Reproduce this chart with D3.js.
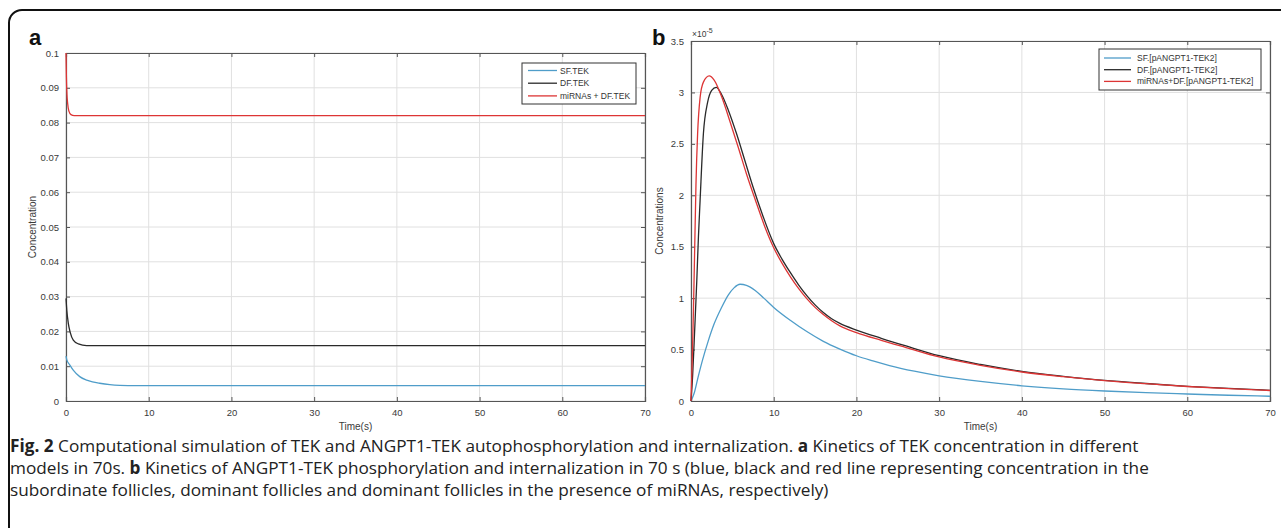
<!DOCTYPE html>
<html><head><meta charset="utf-8">
<script src="https://cdn.jsdelivr.net/npm/d3@7"></script>
<style>
html,body{margin:0;padding:0;background:#fff;}
svg{display:block;}
</style></head>
<body>
<svg id="c" width="1281" height="528"></svg>
<script>
// ---------- Data: panel a (TEK concentration) ----------
const timeSFa = [0,0.1,0.45,0.9,1.66,2.5,3.2,4.07,5.3,6.5,8.5,70];
const sfTEK   = [0.0129,0.0118,0.0104,0.0088,0.0070,0.0060,0.0055,0.0051,0.0047,0.0045,0.0044,0.0044];
const timeDFa = [0,0.1,0.28,0.5,0.88,1.5,2.5,70];
const dfTEK   = [0.0295,0.026,0.0223,0.0198,0.0175,0.0164,0.0159,0.0159];
const timeMIa = [0,0.05,0.12,0.2,0.35,0.6,1.0,70];
const miTEK   = [0.1,0.093,0.088,0.0855,0.0833,0.0823,0.082,0.082];
const legendA = ["SF.TEK","DF.TEK","miRNAs + DF.TEK"];
const xTicksA = [0,10,20,30,40,50,60,70];
const yTicksA = [0,0.01,0.02,0.03,0.04,0.05,0.06,0.07,0.08,0.09,0.1];

// ---------- Data: panel b (pANGPT1-TEK2, x 1e-5) ----------
const timeSFb = [0,0.4,0.85,1.4,2.07,2.8,3.7,4.5,5.2,5.93,6.7,7.76,8.8,10,12,14,16,18,20,22,24,27,30,35,40,45,50,55,60,65,70];
const sfP     = [0,0.08,0.23,0.4,0.58,0.75,0.91,1.03,1.1,1.135,1.125,1.075,1.0,0.91,0.785,0.675,0.58,0.505,0.44,0.39,0.345,0.29,0.245,0.19,0.148,0.118,0.097,0.081,0.068,0.056,0.046];
const timeDFb = [0,0.2,0.45,0.7,0.9,1.1,1.5,2.0,2.5,3.05,3.7,4.5,5.5,6.5,7.5,8.6,10,11,12,13,14,15,16,17,18,20,23,26,30,35,40,45,50,55,60,65,70];
const dfP     = [0,0.25,0.7,1.17,1.6,1.95,2.6,2.9,3.02,3.05,2.98,2.83,2.6,2.34,2.08,1.82,1.53,1.38,1.25,1.13,1.025,0.935,0.86,0.8,0.755,0.69,0.61,0.535,0.44,0.355,0.288,0.24,0.2,0.17,0.143,0.122,0.104];
const timeMIb = [0,0.15,0.3,0.45,0.6,0.8,1.1,1.5,2.2,2.8,3.7,4.7,5.7,6.7,7.8,8.9,10,11,12,13,14,15,16,17,18,20,23,26,30,35,40,45,50,55,60,65,70];
const miP     = [0,0.4,0.9,1.5,2.1,2.6,2.95,3.1,3.16,3.12,2.96,2.72,2.47,2.21,1.95,1.70,1.49,1.34,1.21,1.095,0.995,0.91,0.84,0.78,0.73,0.665,0.59,0.52,0.428,0.347,0.282,0.236,0.198,0.168,0.141,0.12,0.102];
const legendB = ["SF.[pANGPT1-TEK2]","DF.[pANGPT1-TEK2]","miRNAs+DF.[pANGPT1-TEK2]"];
const xTicksB = [0,10,20,30,40,50,60,70];
const yTicksB = [0,0.5,1,1.5,2,2.5,3,3.5];

const colors = ["#4f9dc9","#2a2a2a","#dd3535"];

const caption = [
  [{b:true,t:"Fig. 2"},{t:" Computational simulation of TEK and ANGPT1-TEK autophosphorylation and internalization. "},{b:true,t:"a"},{t:" Kinetics of TEK concentration in different"}],
  [{t:"models in 70s. "},{b:true,t:"b"},{t:" Kinetics of ANGPT1-TEK phosphorylation and internalization in 70 s (blue, black and red line representing concentration in the"}],
  [{t:"subordinate follicles, dominant follicles and dominant follicles in the presence of miRNAs, respectively)"}]
];

const svg = d3.select("#c");
const axisCol = "#555", gridCol = "#e0e0e0", textCol = "#3a3a3a";
const font = "'Liberation Sans', Arial, sans-serif";

// outer rounded frame
svg.append("rect").attr("x",9).attr("y",10).attr("width",1320).attr("height",600)
  .attr("rx",13).attr("fill","none").attr("stroke","#111").attr("stroke-width",2);

function panel(opt){
  const {L,T,R,B} = opt;
  const x = d3.scaleLinear().domain([0,70]).range([L,R]);
  const y = d3.scaleLinear().domain(opt.yDomain).range([B,T]);
  const g = svg.append("g");
  // grid
  g.append("g").selectAll("line").data(opt.xTicks).join("line")
    .attr("x1",d=>x(d)).attr("x2",d=>x(d)).attr("y1",T).attr("y2",B)
    .attr("stroke",gridCol).attr("stroke-width",1);
  g.append("g").selectAll("line").data(opt.yTicks).join("line")
    .attr("y1",d=>y(d)).attr("y2",d=>y(d)).attr("x1",L).attr("x2",R)
    .attr("stroke",gridCol).attr("stroke-width",1);
  // axes
  const fmt = opt.fmt;
  const ax = g.append("g").attr("transform",`translate(0,${B})`)
    .call(d3.axisBottom(x).tickValues(opt.xTicks).tickSize(-4).tickPadding(8).tickFormat(d3.format("d")));
  const axT = g.append("g").attr("transform",`translate(0,${T})`)
    .call(d3.axisTop(x).tickValues(opt.xTicks).tickSize(-4).tickFormat(""));
  const ay = g.append("g").attr("transform",`translate(${L},0)`)
    .call(d3.axisLeft(y).tickValues(opt.yTicks).tickSize(-4).tickPadding(7).tickFormat(fmt));
  const ayR = g.append("g").attr("transform",`translate(${R},0)`)
    .call(d3.axisRight(y).tickValues(opt.yTicks).tickSize(-4).tickFormat(""));
  [ax,axT,ay,ayR].forEach(a=>{
    a.select(".domain").attr("stroke",axisCol).attr("stroke-width",1.2);
    a.selectAll(".tick line").attr("stroke",axisCol);
    a.selectAll("text").attr("fill",textCol).style("font-family",font).style("font-size","9.5px");
  });
  // lines (drawn above the axes)
  const clip = "clip"+opt.id;
  svg.append("clipPath").attr("id",clip).append("rect").attr("x",L-1).attr("y",T-1).attr("width",R-L+2).attr("height",B-T+2);
  const line = d3.line().x(d=>x(d[0])).y(d=>y(d[1])).curve(d3.curveMonotoneX);
  opt.series.forEach((s,i)=>{
    g.append("path").datum(s.t.map((t,k)=>[t,s.v[k]]))
      .attr("d",line).attr("fill","none").attr("stroke",colors[i]).attr("stroke-width",1.3)
      .attr("clip-path",`url(#${clip})`);
  });
  // axis titles
  g.append("text").attr("x",(L+R)/2).attr("y",B+29).attr("text-anchor","middle")
    .attr("fill",textCol).style("font-family",font).style("font-size","10px").text("Time(s)");
  g.append("text").attr("transform",`translate(${opt.yTitleX},${(T+B)/2}) rotate(-90)`)
    .attr("text-anchor","middle").attr("fill",textCol).style("font-family",font).style("font-size","10px").text(opt.yTitle);
  // panel letter
  g.append("text").attr("x",opt.letterX).attr("y",opt.letterY).attr("fill","#111")
    .style("font-family",font).style("font-weight","bold").style("font-size","22px").text(opt.letter);
  // legend
  const lg = opt.legend;
  g.append("rect").attr("x",lg.x).attr("y",lg.y).attr("width",lg.w).attr("height",lg.h)
    .attr("fill","#fff").attr("stroke","#333").attr("stroke-width",1);
  opt.legendText.forEach((t,i)=>{
    const cy = lg.y + lg.row0 + i*lg.dy;
    g.append("line").attr("x1",lg.x+lg.l0).attr("x2",lg.x+lg.l1).attr("y1",cy).attr("y2",cy)
      .attr("stroke",colors[i]).attr("stroke-width",1.3);
    g.append("text").attr("x",lg.x+lg.tx).attr("y",cy+3).attr("fill","#333")
      .style("font-family",font).style("font-size","8.5px").text(t);
  });
  return {x,y,g};
}

panel({id:"a",L:66,T:53,R:645,B:401,yDomain:[0,0.1],xTicks:xTicksA,yTicks:yTicksA,
  fmt:d=>d===0?"0":d3.format(".2~f")(d),
  series:[{t:timeSFa,v:sfTEK},{t:timeDFa,v:dfTEK},{t:timeMIa,v:miTEK}],
  yTitle:"Concentration",yTitleX:36,letter:"a",letterX:29,letterY:45,
  legend:{x:522,y:63,w:114,h:41,row0:7.5,dy:12.7,l0:6,l1:35,tx:38},legendText:legendA});

const pb = panel({id:"b",L:691,T:41,R:1270,B:401,yDomain:[0,3.5],xTicks:xTicksB,yTicks:yTicksB,
  fmt:d=>d3.format("~g")(d),
  series:[{t:timeSFb,v:sfP},{t:timeDFb,v:dfP},{t:timeMIb,v:miP}],
  yTitle:"Concentrations",yTitleX:663,letter:"b",letterX:652,letterY:45,
  legend:{x:1099,y:49,w:162,h:41,row0:9,dy:11.7,l0:5,l1:32,tx:38},legendText:legendB});

// exponent label
const ex = pb.g.append("text").attr("x",692).attr("y",37).attr("fill",textCol)
  .style("font-family",font).style("font-size","8.5px");
ex.append("tspan").text("\u00d710");
ex.append("tspan").attr("dy",-4).style("font-size","7px").text("-5");

// caption
const capFont = "'Open Sans', 'Noto Sans', sans-serif";
const capY = [452,474,496];
caption.forEach((runs,i)=>{
  const t = svg.append("text").attr("x",10).attr("y",capY[i]).attr("fill","#222")
    .style("font-family",capFont).style("font-size","17.2px");
  runs.forEach(r=>{
    t.append("tspan").style("font-weight",r.b?"bold":"normal").text(r.t);
  });
});
</script>
</body></html>
